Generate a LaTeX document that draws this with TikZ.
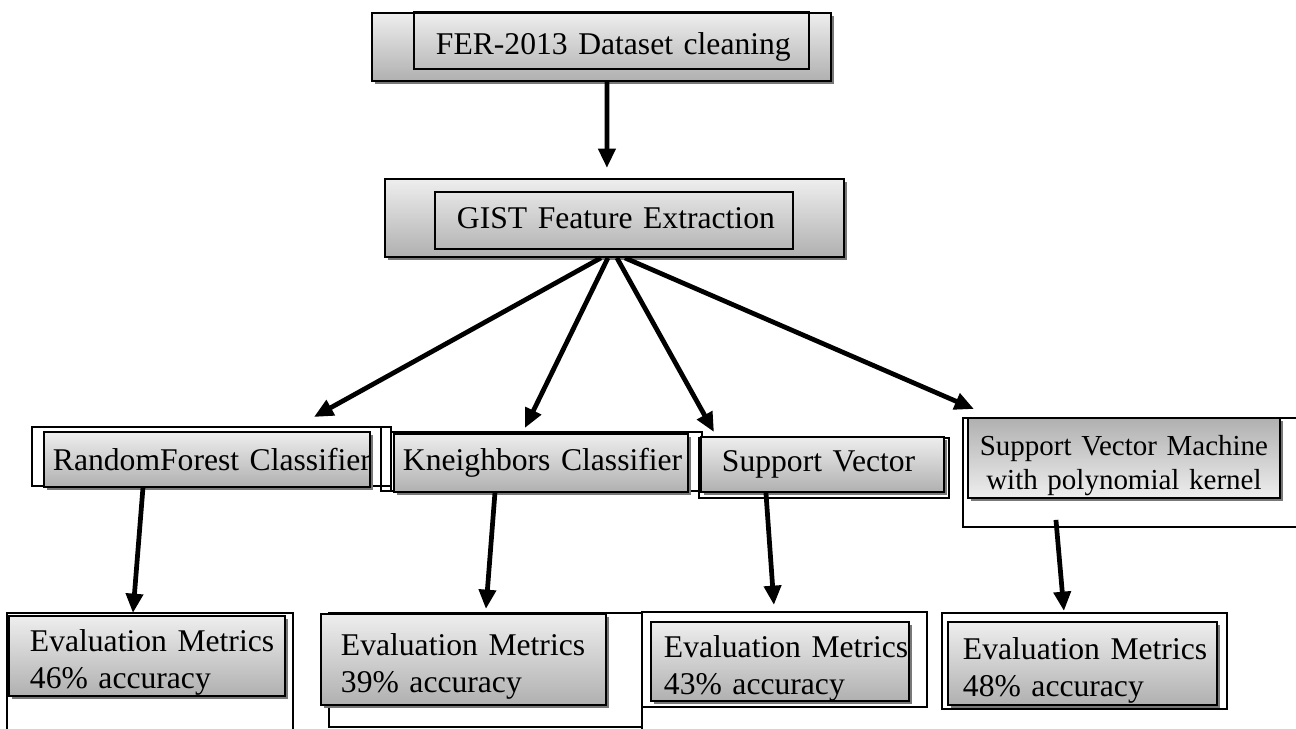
\documentclass[tikz,border=0pt]{standalone}
\usepackage{fontspec}
\setmainfont{Liberation Serif}
\usetikzlibrary{positioning}
\usetikzlibrary{arrows.meta,shadows}

\definecolor{boxtop}{RGB}{238,238,238}
\definecolor{boxbot}{RGB}{176,176,176}
\definecolor{shadowgray}{RGB}{120,120,120}

\begin{document}
\begin{tikzpicture}[x=0.02cm, y=-0.02cm,
    gbox/.style={draw, line width=1.1pt, anchor=north west, top color=boxtop, bottom color=boxbot,
        drop shadow={shadow xshift=0.07cm, shadow yshift=-0.07cm, fill=shadowgray, opacity=1},
        align=left, inner ysep=0pt, font=\fontsize{18}{21}\selectfont},
    lowtext/.style={execute at begin node={\rule{0pt}{20pt}}},
    thinframe/.style={draw, line width=0.7pt},
    flow/.style={line width=2.7pt, -{Triangle[length=11pt,width=9.5pt]}}]
    \useasboundingbox (0,0) rectangle (1296,729);

    %Frames behind the boxes
    \draw[thinframe] (32,427) rectangle (391,486);
    \draw[thinframe] (381,427) rectangle (391,491);
    \draw[thinframe] (391,432) rectangle (702,491);
    \draw[thinframe] (699,438) rectangle (949,498);
    \draw[thinframe, line width=1.2pt] (1296,418) -- (963,418) -- (963,527) -- (1296,527);
    \draw[thinframe] (7,729) -- (7,613) -- (293,613) -- (293,729);
    \draw[thinframe] (329,613) rectangle (642,727);
    \draw[thinframe] (642,612) rectangle (927,707);
    \draw[thinframe] (642,707) -- (642,729);
    \draw[thinframe, line width=1.2pt] (942,613) rectangle (1227,709);

    %Boxes
    \node[gbox, minimum width=9.18cm, minimum height=1.36cm, inner xsep=1.28cm, text width=6.62cm]
        (data) at (371,12) {\mbox{FER-2013 Dataset cleaning}};
    \node[gbox, minimum width=9.18cm, minimum height=1.56cm, inner xsep=1.44cm, text width=6.3cm]
        (gist) at (384,178) {\mbox{GIST Feature Extraction}};
    \node[gbox, minimum width=6.52cm, minimum height=1.1cm, inner xsep=0.18cm, text width=6.16cm]
        (rf) at (43,431) {\mbox{RandomForest Classifier}};
    \node[gbox, minimum width=5.88cm, minimum height=1.16cm, inner xsep=0.18cm, text width=5.52cm]
        (kn) at (393,433) {\mbox{Kneighbors Classifier}};
    \node[gbox, minimum width=4.86cm, minimum height=1.1cm, inner xsep=0.42cm, text width=4.02cm]
        (sv) at (700,436) {\mbox{Support Vector}};
    \node[gbox, lowtext, top color=boxbot, bottom color=boxtop, align=center,
        font=\fontsize{16.5}{19}\selectfont,
        minimum width=6.24cm, minimum height=1.6cm, inner xsep=0.1cm, text width=6.04cm]
        (svm) at (967,417) {\mbox{Support Vector Machine}\\\mbox{with polynomial kernel}};
    \node[gbox, lowtext, minimum width=5.52cm, minimum height=1.6cm, inner xsep=0.42cm, text width=4.68cm]
        (ev1) at (8,615) {\mbox{Evaluation Metrics}\\\mbox{46\% accuracy}};
    \node[gbox, lowtext, minimum width=5.7cm, minimum height=1.82cm, inner xsep=0.4cm, text width=4.9cm]
        (ev2) at (320,613) {\mbox{Evaluation Metrics}\\\mbox{39\% accuracy}};
    \node[gbox, lowtext, minimum width=5.16cm, minimum height=1.5cm, inner xsep=0.26cm, text width=4.64cm]
        (ev3) at (650,621) {\mbox{Evaluation Metrics}\\\mbox{43\% accuracy}};
    \node[gbox, lowtext, minimum width=5.38cm, minimum height=1.66cm, inner xsep=0.3cm, text width=4.78cm]
        (ev4) at (947,621) {\mbox{Evaluation Metrics}\\\mbox{48\% accuracy}};

    %Inner frames
    \draw[line width=1.1pt] (414,12) rectangle (809,69);
    \draw[line width=1.1pt] (435,192) rectangle (793,249);

    %Arrows
    \draw[flow] ([xshift=0.11cm]data.south) -- ([xshift=-0.15cm, yshift=0.2cm]gist.north);
    \draw[flow] ([xshift=-0.27cm]gist.south) -- ([xshift=2.14cm, yshift=0.28cm]rf.north);
    \draw[flow] ([xshift=-0.13cm]gist.south) -- ([xshift=-0.32cm, yshift=0.1cm]kn.north);
    \draw[flow] ([xshift=0.05cm]gist.south) -- ([xshift=-2.17cm, yshift=0.08cm]sv.north);
    \draw[flow] ([xshift=0.21cm]gist.south) -- ([xshift=-3cm, yshift=0.16cm]svm.north);
    \draw[flow] ([xshift=-1.28cm]rf.south) -- ([xshift=-0.28cm, yshift=0.04cm]ev1.north);
    \draw[flow] ([xshift=-0.92cm]kn.south) -- ([xshift=0.45cm, yshift=0.08cm]ev2.north);
    \draw[flow] ([xshift=-1.13cm]sv.south) -- ([xshift=-0.12cm, yshift=0.32cm]ev3.north);
    \draw[flow] ([xshift=-1.36cm, yshift=-0.42cm]svm.south) -- ([xshift=-0.37cm, yshift=0.2cm]ev4.north);
\end{tikzpicture}
\end{document}
